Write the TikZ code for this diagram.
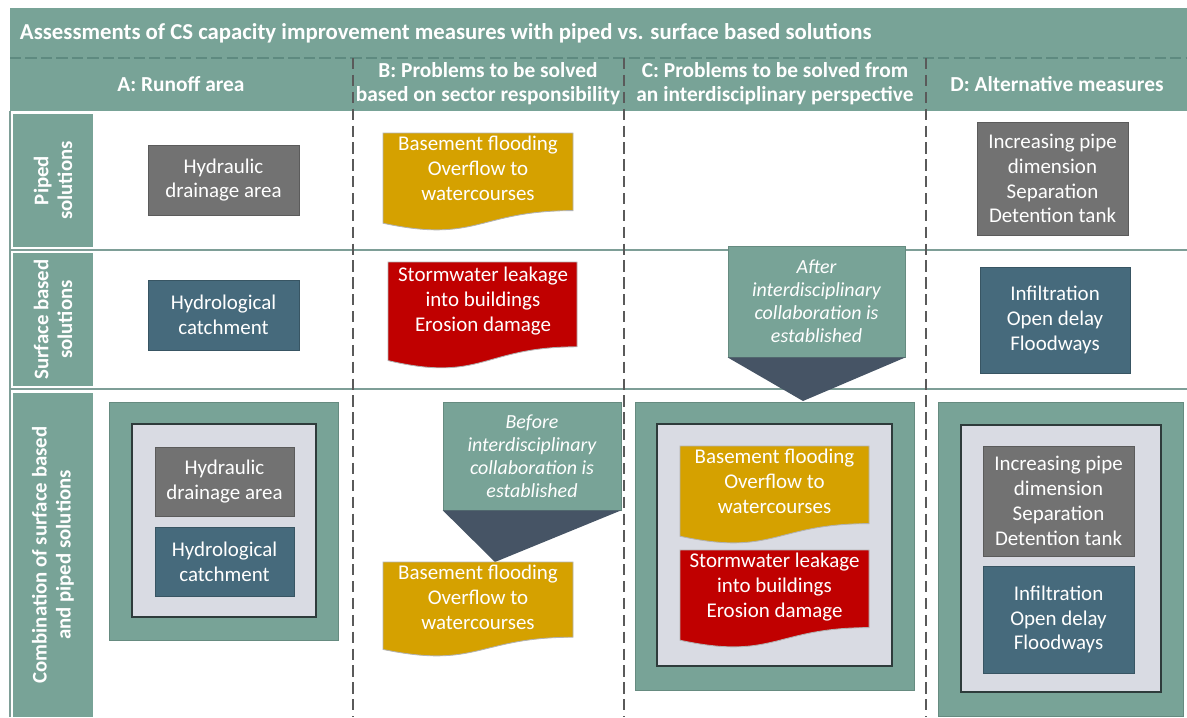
\documentclass[tikz,border=0pt]{standalone}
\usepackage{fontspec}
\setmainfont{Carlito}

\definecolor{tealA}{HTML}{78A397}
\definecolor{tealline}{HTML}{5E8A80}
\definecolor{rowline}{HTML}{7E9E97}
\definecolor{sepgray}{HTML}{5A5A5A}
\definecolor{boxgray}{HTML}{727272}
\definecolor{boxblue}{HTML}{466A7C}
\definecolor{docorange}{HTML}{D5A100}
\definecolor{docred}{HTML}{C00000}
\definecolor{slate}{HTML}{465465}
\definecolor{innergray}{HTML}{D9DBE3}
\definecolor{innerline}{HTML}{2E3B3B}

\tikzset{
  headtxt/.style={text=white, align=center, font=\bfseries\fontsize{15.2}{17}\selectfont},
  rowlab/.style={fill=tealA, rotate=90, text=white, align=center, inner sep=0pt,
    font=\bfseries\fontsize{14.8}{17}\selectfont},
  gbox/.style={fill=boxgray, draw=boxgray!80!black, text=white, align=center, inner sep=0pt},
  bbox/.style={fill=boxblue, draw=boxblue!80!black, text=white, align=center, inner sep=0pt},
  frameout/.style={fill=tealA, draw=tealA!85!black, inner sep=0pt},
  framein/.style={fill=innergray, draw=innerline, line width=1pt, inner sep=0pt},
  calltxt/.style={fill=tealA, draw=tealA!85!black, text=white, align=center, inner sep=0pt,
    font=\itshape\fontsize{14.2}{16.3}\selectfont},
  doctxt/.style={text=white, align=center, inner sep=0pt},
  colsep/.style={draw=sepgray, dash pattern=on 8pt off 4pt, line width=0.9pt},
  rowsep/.style={draw=rowline, line width=1.4pt}
}

% wavy document shape: x1, y1, x2, y2, colour
\newcommand{\wavedoc}[5]{%
  \pgfmathsetmacro{\wdm}{(#1+#3)/2}%
  \pgfmathsetmacro{\wda}{#2+0.80*(#4-#2)}%
  \pgfmathsetmacro{\wdb}{#2+1.14*(#4-#2)}%
  \pgfmathsetmacro{\wdc}{#2+0.93*(#4-#2)}%
  \fill[#5, draw=gray!60, line width=0.6pt] (#1,#2) -- (#3,#2) -- (#3,\wda)
    .. controls (\wdm,\wda) and (\wdm,\wdb) .. (#1,\wdc) -- cycle;
}

\begin{document}
\begin{tikzpicture}[x=0.025cm, y=-0.025cm, font=\fontsize{14.9}{17.7}\selectfont]
\useasboundingbox (0,0) rectangle (1187,717);

%% title and header bands
\fill[tealA] (10,8) rectangle (1187,111);
\draw[tealline, dash pattern=on 8pt off 3pt, line width=0.8pt] (10,58) -- (1187,58);
\node (title) [anchor=west, text=white, font=\bfseries\fontsize{16.2}{18}\selectfont] at (15,33)
  {Assessments of CS capacity improvement measures with piped vs. surface based solutions};
\node (headA) [headtxt] at (181,84) {A: Runoff area};
\node (headB) [headtxt] at (488,84) {B: Problems to be solved\\based on sector responsibility};
\node (headC) [headtxt] at (775,84) {C: Problems to be solved from\\an interdisciplinary perspective};
\node (headD) [headtxt] at (1057,84) {D: Alternative measures};

%% row labels
\draw[rowline, line width=0.8pt] (10,111) -- (10,717);
\node (rowP) [rowlab, minimum width=3.33cm, minimum height=2cm] at (53,180.5) {Piped\\solutions};
\node (rowS) [rowlab, minimum width=3.33cm, minimum height=2cm] at (53,319.5) {Surface based\\solutions};
\node (rowC) [rowlab, minimum width=8.1cm, minimum height=2cm] at (53,555) {Combination of surface based\\and piped solutions};

%% grid lines
\draw[rowsep] (10,250) -- (1187,250);
\draw[rowsep] (10,389) -- (1187,389);
\foreach \cx in {353,624,926}
  \draw[colsep] (\cx,58) -- (\cx,717);

%%% row 1: piped
\node (hydA1) [gbox, minimum width=3.78cm, minimum height=1.75cm] at (223.5,180) {Hydraulic\\drainage area};
\wavedoc{383}{133}{573}{230}{docorange}
\node (docB1) [doctxt] at (478,168) {Basement flooding\\Overflow to\\watercourses};
\node (pipD1) [gbox, minimum width=3.78cm, minimum height=2.83cm] at (1052.5,178.5)
  {Increasing pipe\\dimension\\Separation\\Detention tank};

%%% row 2: surface based
\node (catA2) [bbox, minimum width=3.78cm, minimum height=1.75cm] at (223.5,315) {Hydrological\\catchment};
\wavedoc{388}{262}{577}{368}{docred}
\node (docB2) [doctxt] at (483,301) {Stormwater leakage\\into buildings\\Erosion damage};
\node (after) [calltxt, minimum width=4.43cm, minimum height=2.78cm] at (816.5,301.5)
  {After\\interdisciplinary\\collaboration is\\established};
\coordinate (afterTip) at (803,401);
\fill[slate] (after.south west) -- (after.south east) -- (afterTip) -- cycle;
\node (infD2) [bbox, minimum width=3.75cm, minimum height=2.65cm] at (1055,320)
  {Infiltration\\Open delay\\Floodways};

%%% row 3: combination
% column A
\node (outA3) [frameout, minimum width=5.73cm, minimum height=5.95cm] at (223.5,521) {};
\node (inA3) [framein, minimum width=4.6cm, minimum height=4.83cm] at (224,520.5) {};
\node (hydA3) [gbox, minimum width=3.48cm, minimum height=1.73cm] at (224.5,481.5) {Hydraulic\\drainage area};
\node (catA3) [bbox, minimum width=3.48cm, minimum height=1.73cm] at (224.5,561.5) {Hydrological\\catchment};
% column B
\node (before) [calltxt, minimum width=4.45cm, minimum height=2.7cm] at (532,456)
  {Before\\interdisciplinary\\collaboration is\\established};
\coordinate (beforeTip) at (495,562);
\fill[slate] (before.south west) -- (before.south east) -- (beforeTip) -- cycle;
\wavedoc{383}{562}{573}{656}{docorange}
\node (docB3) [doctxt] at (478,597) {Basement flooding\\Overflow to\\watercourses};
% column C
\node (outC3) [frameout, minimum width=6.98cm, minimum height=7.2cm] at (774.5,546) {};
\node (inC3) [framein, minimum width=5.88cm, minimum height=6.05cm] at (774.5,545) {};
\wavedoc{680}{446}{869}{543}{docorange}
\node (docC3a) [doctxt] at (774.5,481) {Basement flooding\\Overflow to\\watercourses};
\wavedoc{680}{550}{869}{647}{docred}
\node (docC3b) [doctxt] at (774.5,587) {Stormwater leakage\\into buildings\\Erosion damage};
% column D
\node (outD3) [frameout, minimum width=6.13cm, minimum height=7.85cm] at (1060.5,559) {};
\node (inD3) [framein, minimum width=5cm, minimum height=6.68cm] at (1061,558.5) {};
\node (pipD3) [gbox, minimum width=3.78cm, minimum height=2.75cm] at (1058.5,501)
  {Increasing pipe\\dimension\\Separation\\Detention tank};
\node (infD3) [bbox, minimum width=3.78cm, minimum height=2.68cm] at (1058.5,619.5)
  {Infiltration\\Open delay\\Floodways};
\end{tikzpicture}
\end{document}
